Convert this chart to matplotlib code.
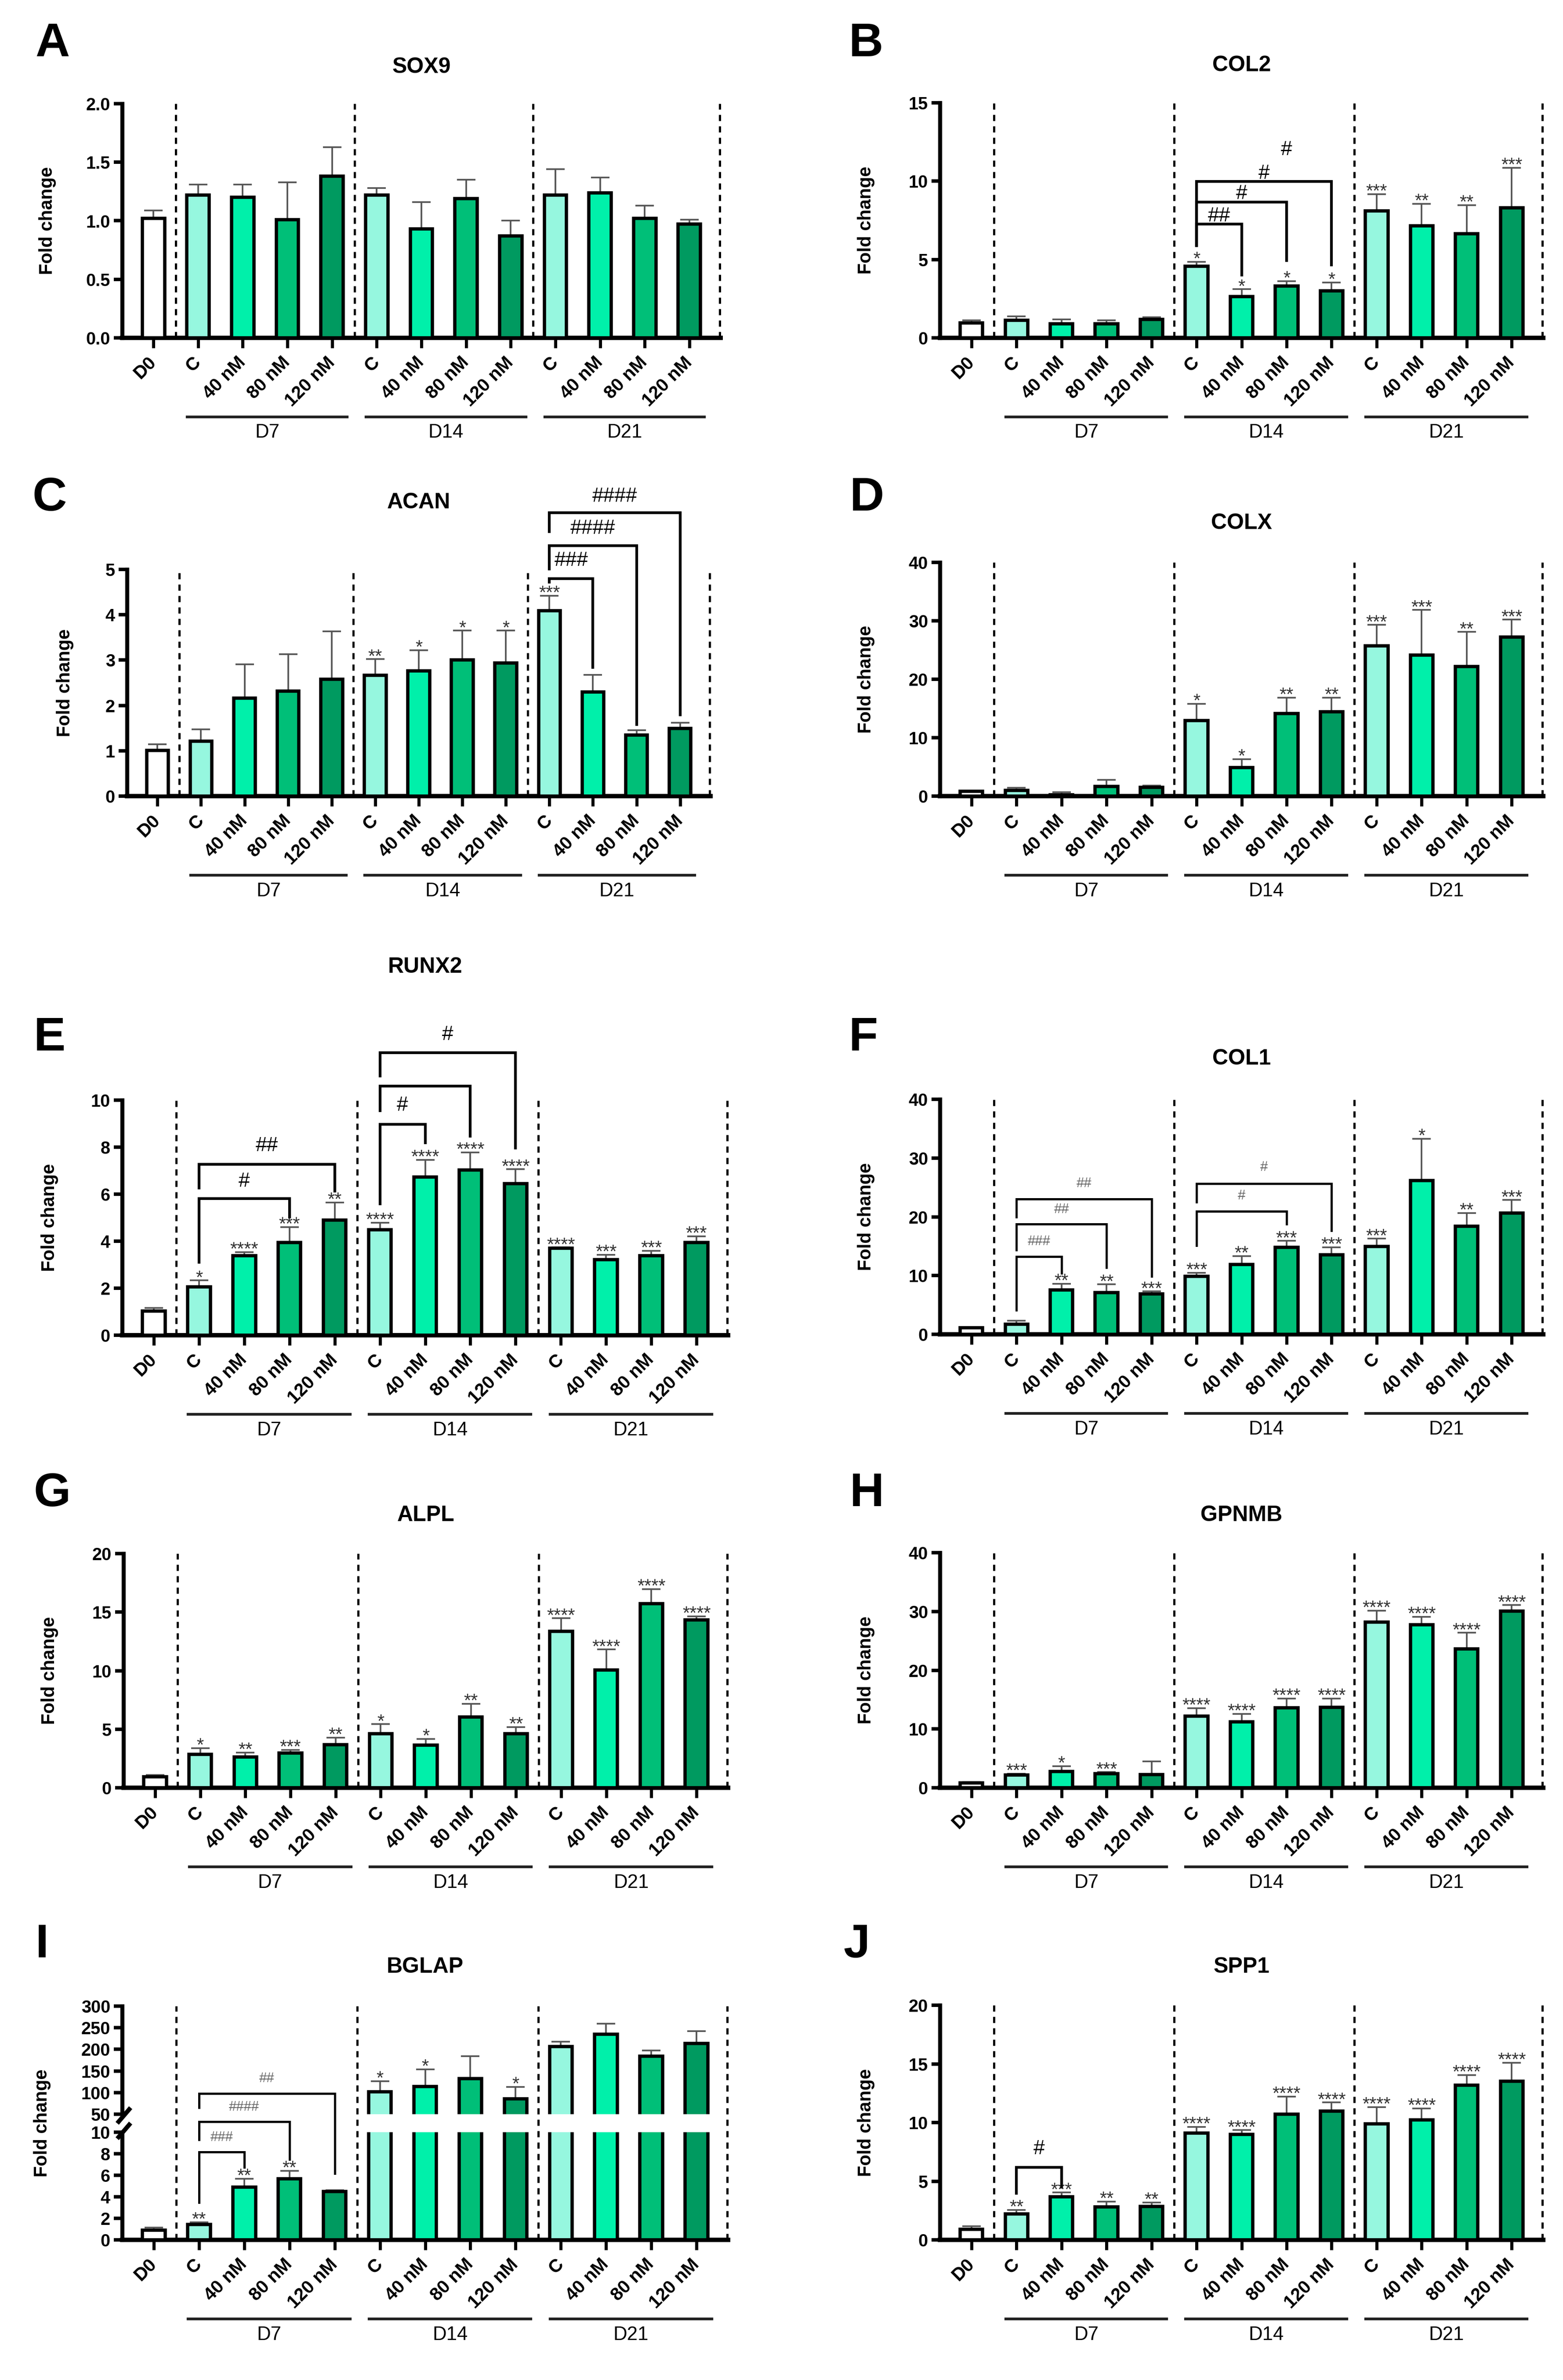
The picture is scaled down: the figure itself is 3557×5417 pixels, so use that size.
import matplotlib as mpl

mpl.use("Agg")

import matplotlib.pyplot as plt
import matplotlib.transforms as mtransforms
import numpy as np
from matplotlib.lines import Line2D

W, H = 3557, 5417
DPI = 300

TICK_LABELS = ["D0", "C", "40 nM", "80 nM", "120 nM",
               "C", "40 nM", "80 nM", "120 nM",
               "C", "40 nM", "80 nM", "120 nM"]
GROUP_LABELS = ["D7", "D14", "D21"]
BAR_COLORS = ["white"] + ["#96F7DF", "#00F0AA", "#00BF78", "#009A60"] * 3

# values: bar mean and upper error
SOX9_MEAN = [1.02, 1.22, 1.20, 1.01, 1.38, 1.22, 0.93, 1.19, 0.87, 1.22, 1.24, 1.02, 0.97]
SOX9_ERR = [0.07, 0.09, 0.11, 0.32, 0.25, 0.06, 0.23, 0.16, 0.13, 0.22, 0.13, 0.11, 0.04]
SOX9_STARS = [""] * 13

COL2_MEAN = [0.94, 1.13, 0.90, 0.90, 1.18, 4.57, 2.63, 3.31, 3.01, 8.10, 7.16, 6.64, 8.29]
COL2_ERR = [0.19, 0.24, 0.28, 0.23, 0.14, 0.28, 0.47, 0.32, 0.52, 1.07, 1.39, 1.84, 2.57]
COL2_STARS = ["", "", "", "", "", "*", "*", "*", "*", "***", "**", "**", "***"]
COL2_BRACKETS = [(5, 6, 7.26, 5.88, 4.0, "##", 7.77),
                 (5, 7, 8.65, 5.88, 4.94, "#", 9.21),
                 (5, 8, 9.98, 5.88, 4.66, "#", 10.49)]
COL2_EXTRA = [(7.0, 11.99, "#")]

ACAN_MEAN = [1.01, 1.21, 2.16, 2.32, 2.58, 2.66, 2.76, 3.00, 2.94, 4.09, 2.30, 1.35, 1.49]
ACAN_ERR = [0.13, 0.26, 0.75, 0.81, 1.05, 0.36, 0.46, 0.65, 0.71, 0.33, 0.37, 0.10, 0.13]
ACAN_STARS = ["", "", "", "", "", "**", "*", "*", "*", "***", "", "", ""]
ACAN_BRACKETS = [(9, 10, 4.80, 4.72, 2.84, "###", 5.19),
                 (9, 11, 5.52, 5.01, 1.58, "####", 5.90),
                 (9, 12, 6.25, 5.83, 1.79, "####", 6.61)]

COLX_MEAN = [0.8, 1.0, 0.25, 1.66, 1.5, 12.9, 4.9, 14.1, 14.4, 25.7, 24.15, 22.2, 27.2]
COLX_ERR = [0.1, 0.4, 0.4, 1.14, 0.3, 2.9, 1.4, 2.75, 2.45, 3.6, 7.7, 5.9, 3.0]
COLX_STARS = ["", "", "", "", "", "*", "*", "**", "**", "***", "***", "**", "***"]

RUNX2_MEAN = [1.02, 2.06, 3.39, 3.94, 4.90, 4.49, 6.72, 7.02, 6.45, 3.70, 3.22, 3.39, 3.94]
RUNX2_ERR = [0.13, 0.27, 0.14, 0.66, 0.75, 0.30, 0.74, 0.76, 0.61, 0.03, 0.20, 0.20, 0.27]
RUNX2_STARS = ["", "*", "****", "***", "**", "****", "****", "****", "****",
               "****", "***", "***", "***"]
RUNX2_BRACKETS = [(1, 3, 5.82, 3.11, 5.03, "#", 6.54),
                  (1, 4, 7.27, 6.27, 6.13, "##", 8.05),
                  (5, 6, 8.98, 5.58, 8.19, "#", 9.77),
                  (5, 7, 10.59, 9.56, 8.46, "", 0),
                  (5, 8, 12.02, 11.03, 7.96, "#", 12.78)]

COL1_MEAN = [1.1, 1.75, 7.56, 7.12, 6.85, 9.86, 11.9, 14.8, 13.5, 14.96, 26.2, 18.36, 20.66]
COL1_ERR = [0.1, 0.6, 1.04, 1.38, 0.45, 0.64, 1.4, 1.1, 1.3, 1.31, 7.1, 2.3, 2.19]
COL1_STARS = ["", "", "**", "**", "***", "***", "**", "***", "***", "***", "*", "**", "***"]
COL1_BRACKETS = [(1, 2, 13.26, 4.11, 10.41, "###", 15.78),
                 (1, 3, 18.74, 14.36, 11.34, "##", 21.26),
                 (1, 4, 23.0, 20.0, 9.86, "##", 25.64),
                 (5, 7, 20.93, 15.07, 18.74, "#", 23.56),
                 (5, 8, 25.64, 22.47, 17.64, "#", 28.38)]

ALPL_MEAN = [0.95, 2.84, 2.64, 2.96, 3.67, 4.60, 3.64, 6.03, 4.60, 13.34, 10.05, 15.73, 14.35]
ALPL_ERR = [0.13, 0.55, 0.38, 0.26, 0.60, 0.83, 0.53, 1.13, 0.58, 1.13, 1.76, 1.23, 0.30]
ALPL_STARS = ["", "*", "**", "***", "**", "*", "*", "**", "**", "****", "****", "****", "****"]

GPNMB_MEAN = [0.8, 2.15, 2.8, 2.4, 2.26, 12.18, 11.18, 13.58, 13.68, 28.22, 27.72, 23.61, 30.08]
GPNMB_ERR = [0.2, 0.25, 0.86, 0.26, 2.25, 1.35, 1.4, 1.61, 1.51, 1.91, 1.4, 2.76, 1.0]
GPNMB_STARS = ["", "***", "*", "***", "", "****", "****", "****", "****",
               "****", "****", "****", "****"]

BGLAP_MEAN = [0.88, 1.42, 4.9, 5.69, 4.48, 102, 114, 132, 86, 207, 235, 184, 214]
BGLAP_ERR = [0.25, 0.22, 0.77, 0.71, 0.14, 24, 40, 52, 27, 11, 24, 13, 28]
BGLAP_STARS = ["", "**", "**", "**", "", "*", "*", "", "*", "", "", "", ""]
# bracket heights in units of the lower (0-10) axis, extended upward
BGLAP_BRACKETS = [(1, 2, 8.16, 3.48, 6.74, "###", 9.52),
                  (1, 3, 10.99, 9.29, 7.45, "####", 12.32),
                  (1, 4, 13.6, 12.27, 6.18, "##", 14.96)]

SPP1_MEAN = [0.91, 2.21, 3.66, 2.81, 2.86, 9.09, 8.99, 10.73, 10.99, 9.90, 10.21, 13.19, 13.53]
SPP1_ERR = [0.26, 0.34, 0.37, 0.44, 0.33, 0.55, 0.36, 1.48, 0.72, 1.42, 0.98, 0.86, 1.56]
SPP1_STARS = ["", "**", "***", "**", "**", "****", "****", "****", "****",
              "****", "****", "****", "****"]
SPP1_BRACKETS = [(1, 2, 6.18, 3.97, 4.49, "#", 7.74)]


def set_style():
    plt.rcParams.update(
        {
            "font.family": ["Liberation Sans", "DejaVu Sans"],
            "axes.linewidth": 2.0,
            "figure.facecolor": "white",
        }
    )


def fig_box(x0, y0, x1, y1):
    return [x0 / W, 1 - y1 / H, (x1 - x0) / W, (y1 - y0) / H]


def fig_text(fig, x, y, s, **kw):
    fig.text(x / W, 1 - y / H, s, **kw)


def style_axes(ax, ylim, yticks, yfmt, show_x=True):
    ax.set_xlim(-0.7, 12.7)
    ax.set_ylim(*ylim)
    ax.set_yticks(yticks)
    ax.set_yticklabels([yfmt.format(v) for v in yticks], fontweight="bold", fontsize=9.5)
    for s in ("top", "right"):
        ax.spines[s].set_visible(False)
    ax.spines["left"].set_linewidth(2.2)
    ax.spines["bottom"].set_linewidth(2.4)
    ax.tick_params(axis="y", length=4.5, width=1.9, pad=2)
    ax.set_xticks(range(13))
    if show_x:
        ax.tick_params(axis="x", length=5.5, width=1.7, pad=6.5)
        ax.set_xticklabels(TICK_LABELS, rotation=45, ha="right", va="center",
                           rotation_mode="anchor", fontweight="bold", fontsize=10)
    else:
        ax.spines["bottom"].set_visible(False)
        ax.tick_params(axis="x", length=0, labelbottom=False)
    ax.patch.set_alpha(0)


def draw_bars(ax, means, errs):
    x = np.arange(13)
    ax.bar(x, means, width=0.5, color=BAR_COLORS, edgecolor="black", linewidth=1.8, zorder=3)
    ax.errorbar(x, means, yerr=[np.zeros(13), errs], fmt="none", ecolor="#555555",
                elinewidth=0.9, capsize=5, capthick=0.9, zorder=2)


def draw_stars(ax, means, errs, stars, only=None):
    for i, s in enumerate(stars):
        if not s or (only is not None and i not in only):
            continue
        ax.annotate(s, (i, means[i] + errs[i]), xytext=(0, -1.5), textcoords="offset points",
                    ha="center", va="baseline", fontsize=10, color="#333333",
                    annotation_clip=False)


def draw_brackets(ax, brackets, small=False):
    lw = 1.2 if small else 1.5
    fs = 7.5 if small else 11
    col = "#666666" if small else "black"
    for a, b, yb, yl, yr, lab, ly in brackets:
        ax.plot([a, a, b, b], [yl, yb, yb, yr], color="black", lw=lw, clip_on=False,
                solid_joinstyle="miter", zorder=4)
        if lab:
            ax.text((a + b) / 2, ly, lab, ha="center", va="center", fontsize=fs,
                    color=col, clip_on=False)


def draw_dividers(ax, fig, y_bot_px, y_top_px):
    tr = mtransforms.blended_transform_factory(ax.transData, fig.transFigure)
    for xv in (0.5, 4.5, 8.5, 12.68):
        ax.plot([xv, xv], [1 - y_bot_px / H, 1 - y_top_px / H], transform=tr, color="black",
                lw=1.2, ls=(0, (2.8, 2.4)), clip_on=False, zorder=1)


def draw_groups(ax, axes_h_px):
    tr = mtransforms.blended_transform_factory(ax.transData, ax.transAxes)
    y_line = -180 / axes_h_px
    y_text = -216 / axes_h_px
    for g, (s, e) in enumerate(((1, 4), (5, 8), (9, 12))):
        ax.plot([s - 0.24, e + 0.34], [y_line, y_line], transform=tr, color="#222222",
                lw=1.5, clip_on=False)
        ax.text((s + e) / 2 + 0.05, y_text, GROUP_LABELS[g], transform=tr, ha="center",
                va="center", fontsize=10.5)


def panel_text(fig, letter, letter_xy, title, title_x, title_y, ylabel_x, ylabel_y):
    fig_text(fig, letter_xy[0], letter_xy[1], letter, fontsize=26, fontweight="bold",
             ha="center", va="center")
    fig_text(fig, title_x, title_y, title, fontsize=12, fontweight="bold",
             ha="center", va="center")
    fig_text(fig, ylabel_x, ylabel_y, "Fold change", fontsize=10, fontweight="bold",
             rotation=90, ha="center", va="center")


def simple_panel(fig, box, letter, letter_xy, title, title_y, ylabel_x,
                 means, errs, stars, ylim, yticks, yfmt="{:d}",
                 brackets=(), small=False, extra=()):
    x0, y0, x1, y1 = box
    ax = fig.add_axes(fig_box(*box))
    style_axes(ax, ylim, yticks, yfmt)
    draw_dividers(ax, fig, y1, y0)
    draw_bars(ax, means, errs)
    draw_stars(ax, means, errs, stars)
    draw_brackets(ax, brackets, small=small)
    for ex, ey, lab in extra:
        ax.text(ex, ey, lab, ha="center", va="center", fontsize=11, clip_on=False)
    draw_groups(ax, y1 - y0)
    panel_text(fig, letter, letter_xy, title, (x0 + x1) / 2, title_y, ylabel_x, (y0 + y1) / 2)
    return ax


def bglap_panel(fig):
    up_box = (278, 4566, 1657, 4812)
    lo_box = (278, 4853, 1657, 5098)
    ax_up = fig.add_axes(fig_box(*up_box))
    ax_lo = fig.add_axes(fig_box(*lo_box))
    style_axes(ax_up, (50, 300), [50, 100, 150, 200, 250, 300], "{:d}", show_x=False)
    style_axes(ax_lo, (0, 10), [0, 2, 4, 6, 8, 10], "{:d}")
    draw_dividers(ax_lo, fig, lo_box[3], up_box[1])
    for ax in (ax_up, ax_lo):
        draw_bars(ax, BGLAP_MEAN, BGLAP_ERR)
    tops = np.array(BGLAP_MEAN) + np.array(BGLAP_ERR)
    draw_stars(ax_lo, BGLAP_MEAN, BGLAP_ERR, BGLAP_STARS, only=set(np.where(tops <= 10)[0]))
    draw_stars(ax_up, BGLAP_MEAN, BGLAP_ERR, BGLAP_STARS, only=set(np.where(tops > 10)[0]))
    draw_brackets(ax_lo, BGLAP_BRACKETS, small=True)
    draw_groups(ax_lo, lo_box[3] - lo_box[1])
    # axis break marks
    for yc in (4815, 4850):
        fig.add_artist(Line2D([270 / W, 294 / W], [1 - (yc + 14) / H, 1 - (yc - 14) / H],
                              color="black", lw=2.4))
    panel_text(fig, "I", (96, 4427), "BGLAP", (278 + 1657) / 2, 4477, 96,
               (up_box[1] + lo_box[3]) / 2)


def build_figure():
    set_style()
    fig = plt.figure(figsize=(W / DPI, H / DPI), dpi=DPI)

    simple_panel(fig, (278, 236, 1640, 769), "A", (119, 100), "SOX9", 153, 108,
                 SOX9_MEAN, SOX9_ERR, SOX9_STARS, (0, 2), [0, 0.5, 1.0, 1.5, 2.0], "{:.1f}")
    simple_panel(fig, (2139, 234, 3512, 769), "B", (1971, 100), "COL2", 149, 1971,
                 COL2_MEAN, COL2_ERR, COL2_STARS, (0, 15), [0, 5, 10, 15],
                 brackets=COL2_BRACKETS, extra=COL2_EXTRA)
    simple_panel(fig, (289, 1296, 1617, 1812), "C", (113, 1134), "ACAN", 1144, 148,
                 ACAN_MEAN, ACAN_ERR, ACAN_STARS, (0, 5), [0, 1, 2, 3, 4, 5],
                 brackets=ACAN_BRACKETS)
    simple_panel(fig, (2139, 1280, 3512, 1812), "D", (1973, 1134), "COLX", 1191, 1971,
                 COLX_MEAN, COLX_ERR, COLX_STARS, (0, 40), [0, 10, 20, 30, 40])
    simple_panel(fig, (278, 2504, 1657, 3039), "E", (113, 2363), "RUNX2", 2201, 113,
                 RUNX2_MEAN, RUNX2_ERR, RUNX2_STARS, (0, 10), [0, 2, 4, 6, 8, 10],
                 brackets=RUNX2_BRACKETS)
    simple_panel(fig, (2139, 2502, 3512, 3037), "F", (1965, 2363), "COL1", 2410, 1971,
                 COL1_MEAN, COL1_ERR, COL1_STARS, (0, 40), [0, 10, 20, 30, 40],
                 brackets=COL1_BRACKETS, small=True)
    simple_panel(fig, (281, 3536, 1657, 4069), "G", (119, 3400), "ALPL", 3449, 113,
                 ALPL_MEAN, ALPL_ERR, ALPL_STARS, (0, 20), [0, 5, 10, 15, 20])
    simple_panel(fig, (2139, 3534, 3512, 4069), "H", (1973, 3400), "GPNMB", 3449, 1971,
                 GPNMB_MEAN, GPNMB_ERR, GPNMB_STARS, (0, 40), [0, 10, 20, 30, 40])
    bglap_panel(fig)
    simple_panel(fig, (2139, 4564, 3512, 5098), "J", (1950, 4427), "SPP1", 4477, 1971,
                 SPP1_MEAN, SPP1_ERR, SPP1_STARS, (0, 20), [0, 5, 10, 15, 20],
                 brackets=SPP1_BRACKETS)
    return fig


def main():
    fig = build_figure()
    fig.savefig("out.png", dpi=DPI, facecolor="white")
    plt.close(fig)


if __name__ == "__main__":
    main()
